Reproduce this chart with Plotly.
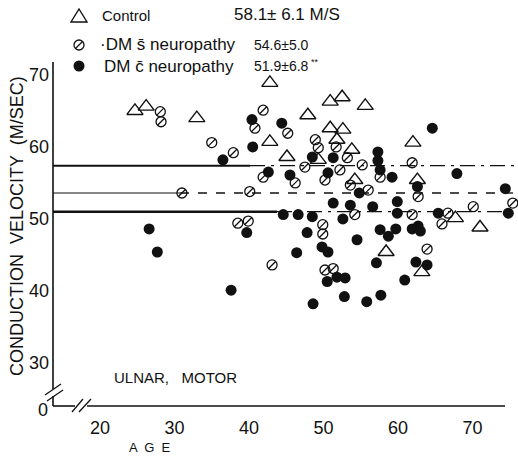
import plotly.graph_objects as go

# ---------------- data ----------------
control_age = [24.7, 26.2, 33.0, 42.8, 47.9, 50.9, 52.5, 55.6, 62.0, 42.8, 45.1, 50.9, 52.6,
               58.4, 63.2, 71.0, 67.7, 51.8, 53.8, 49.3, 62.6, 54.2]
control_vel = [65.0, 65.6, 64.0, 68.9, 64.4, 66.3, 66.9, 65.7, 60.6, 60.7, 58.6, 62.6, 62.4,
               45.4, 42.6, 48.8, 50.1, 61.0, 59.6, 58.2, 55.4, 55.4]

dm_no_age = [28.1, 28.2, 35.0, 31.0, 37.9, 41.9, 40.8, 45.2, 47.5, 41.9, 46.2, 40.1, 38.5,
             39.9, 43.1, 49.9, 49.9, 50.2, 51.3, 54.2, 48.9, 53.2, 61.9, 57.6, 62.7, 61.9,
             66.7, 65.9, 70.1, 75.4, 63.9, 49.3, 50.2, 52.2, 53.6, 56.0, 51.7, 55.2]
dm_no_vel = [64.9, 63.5, 60.6, 53.6, 59.2, 65.1, 62.6, 61.9, 57.2, 55.8, 55.0, 53.8, 49.4,
             49.7, 43.6, 49.2, 47.9, 42.9, 43.1, 50.6, 61.0, 58.5, 57.8, 55.8, 53.1, 50.6,
             50.8, 49.3, 51.7, 52.2, 45.8, 59.9, 55.4, 56.8, 54.7, 54.0, 60.0, 57.5]

dm_neuro_age = [26.6, 27.7, 37.6, 39.7, 44.6, 46.6, 48.5, 51.3, 53.6, 52.6, 47.8, 54.5, 49.8,
                50.6, 46.4, 51.8, 52.9, 50.5, 52.8, 48.6, 56.6, 59.9, 59.9, 65.4, 74.8, 57.6,
                58.7, 59.7, 61.9, 62.7, 63.0, 57.1, 62.4, 63.9, 60.9, 55.8, 57.7, 40.4, 44.4,
                40.5, 48.5, 42.6, 45.5, 51.3, 57.3, 57.3, 57.6, 50.6, 59.2, 54.8, 64.6, 67.9,
                62.6, 74.4, 36.5]
dm_neuro_vel = [48.6, 45.4, 40.1, 48.1, 50.6, 50.6, 50.3, 52.2, 51.9, 50.0, 48.1, 47.1, 46.1,
                45.4, 45.3, 41.9, 41.8, 41.3, 39.2, 38.2, 51.7, 52.4, 50.8, 50.8, 50.8, 48.5,
                47.6, 48.6, 48.6, 49.0, 48.3, 43.9, 44.0, 43.6, 41.5, 38.5, 39.4, 63.8, 63.3,
                60.0, 58.6, 56.5, 56.1, 58.5, 59.3, 58.1, 56.8, 56.4, 55.8, 53.6, 62.6, 56.3,
                54.5, 54.2, 58.2]

# mean lines as drawn in the figure (Control, DM without, DM with neuropathy)
mean_levels = [57.4, 53.6, 51.0]

x_ticks = [20, 30, 40, 50, 60, 70]
y_ticks = [30, 40, 50, 60, 70]

legend_names = ["Control", "\u00b7DM s\u0304 neuropathy", "DM c\u0304 neuropathy"]
legend_stats = ["58.1\u00b1 6.1 M/S", "54.6\u00b15.0", "51.9\u00b16.8"]

# ---------------- layout geometry ----------------
W, H = 518, 456
L, R, T, B = 53, 0, 62, 50
PW, PH = W - L - R, H - T - B
X_RANGE = [13.7, 76.1]
Y_RANGE = [24.0, 71.8]


def xp(px):
    return (px - L) / PW


def yp(py):
    return (H - B - py) / PH


def xd(px):
    return X_RANGE[0] + (px - L) / PW * (X_RANGE[1] - X_RANGE[0])


INK = "#111111"
FONT = "Liberation Sans, Arial, sans-serif"

fig = go.Figure()

# control: open triangles
fig.add_trace(go.Scatter(
    x=control_age, y=control_vel, mode="markers",
    marker=dict(symbol="triangle-up-open", size=14, color=INK, line=dict(width=1.4, color=INK)),
    showlegend=False, hoverinfo="skip"))

# DM without neuropathy: slashed open circles
fig.add_trace(go.Scatter(
    x=dm_no_age, y=dm_no_vel, mode="markers",
    marker=dict(symbol="circle-open", size=10, color=INK, line=dict(width=1.3, color=INK)),
    showlegend=False, hoverinfo="skip"))
fig.add_trace(go.Scatter(
    x=dm_no_age, y=dm_no_vel, mode="markers",
    marker=dict(symbol="line-ne", size=7, color=INK, line=dict(width=1.3, color=INK)),
    showlegend=False, hoverinfo="skip"))

# DM with neuropathy: filled circles
fig.add_trace(go.Scatter(
    x=dm_neuro_age, y=dm_neuro_vel, mode="markers",
    marker=dict(symbol="circle", size=11, color=INK, line=dict(width=0)),
    showlegend=False, hoverinfo="skip"))

shapes = []
# mean lines: solid part then broken part
line_styles = [
    (xd(250), 2.0, "longdashdot"),
    (xd(180), 1.2, "dash"),
    (xd(277), 2.4, "longdashdot"),
]
x_end = xd(516)
for lvl, (xbrk, w, dsh) in zip(mean_levels, line_styles):
    shapes.append(dict(type="line", xref="x", yref="y", x0=X_RANGE[0], x1=xbrk, y0=lvl, y1=lvl,
                       line=dict(color=INK, width=w), layer="below"))
    shapes.append(dict(type="line", xref="x", yref="y", x0=xbrk, x1=x_end, y0=lvl, y1=lvl,
                       line=dict(color=INK, width=1.3, dash=dsh), layer="below"))


def seg(x0, y0, x1, y1, w=1.6):
    shapes.append(dict(type="line", xref="paper", yref="paper",
                       x0=xp(x0), y0=yp(y0), x1=xp(x1), y1=yp(y1),
                       line=dict(color=INK, width=w)))


# y axis with break
seg(53, 62, 53, 389)
seg(53, 396, 53, 406)
seg(45, 395, 61, 384, 1.3)
seg(47, 401, 63, 390, 1.3)
# x axis with break
seg(53, 406, 75, 406)
seg(87, 406, 505, 406)
seg(72, 412, 83, 399, 1.3)
seg(79, 412, 91, 399, 1.3)

# legend symbols
leg_x = 79
leg_y = [16, 45, 66]
tri = "M {:.4f},{:.4f} L {:.4f},{:.4f} L {:.4f},{:.4f} Z".format(
    xp(leg_x - 8), yp(leg_y[0] + 6), xp(leg_x + 8), yp(leg_y[0] + 6), xp(leg_x), yp(leg_y[0] - 7))
shapes.append(dict(type="path", xref="paper", yref="paper", path=tri,
                   line=dict(color=INK, width=1.4)))
shapes.append(dict(type="circle", xref="paper", yref="paper",
                   x0=xp(leg_x - 5), x1=xp(leg_x + 5), y0=yp(leg_y[1] + 5), y1=yp(leg_y[1] - 5),
                   line=dict(color=INK, width=1.3)))
seg(leg_x - 3.5, leg_y[1] + 3.5, leg_x + 3.5, leg_y[1] - 3.5, 1.3)
shapes.append(dict(type="circle", xref="paper", yref="paper",
                   x0=xp(leg_x - 5.5), x1=xp(leg_x + 5.5), y0=yp(leg_y[2] + 5.5),
                   y1=yp(leg_y[2] - 5.5), fillcolor=INK, line=dict(color=INK, width=0)))

annotations = []


def txt(px, py, s, size, anchor="left", angle=0):
    annotations.append(dict(xref="paper", yref="paper", x=xp(px), y=yp(py), text=s,
                            showarrow=False, xanchor=anchor, yanchor="middle", textangle=angle,
                            font=dict(family=FONT, size=size, color=INK)))


# legend text
txt(100, leg_y[0], legend_names[0], 15)
txt(232, 15, legend_stats[0], 17)
txt(98, leg_y[1], legend_names[1], 17)
txt(252, leg_y[1], legend_stats[1], 14)
txt(102, leg_y[2], legend_names[2], 17)
txt(252, leg_y[2], legend_stats[2], 14)
txt(309, 62, "**", 9)

# axis titles and labels
txt(17, 226, "CONDUCTION  VELOCITY  (M/SEC)", 18, anchor="center", angle=-90)
txt(150, 447, "A  G  E", 13, anchor="center")
txt(112, 377, "ULNAR,   MOTOR", 15)
txt(50, 410, "0", 18, anchor="right")

fig.update_layout(
    width=W, height=H,
    margin=dict(l=L, r=R, t=T, b=B, pad=0),
    paper_bgcolor="white", plot_bgcolor="white",
    shapes=shapes, annotations=annotations,
    xaxis=dict(range=X_RANGE, showgrid=False, zeroline=False, showline=False,
               tickmode="array", tickvals=x_ticks, ticks="", ticklabelstandoff=9,
               tickfont=dict(family=FONT, size=18, color=INK)),
    yaxis=dict(range=Y_RANGE, showgrid=False, zeroline=False, showline=False,
               tickmode="array", tickvals=y_ticks, ticks="", ticklabelstandoff=3,
               tickfont=dict(family=FONT, size=18, color=INK)),
    showlegend=False,
)

fig.write_html("out.html")
